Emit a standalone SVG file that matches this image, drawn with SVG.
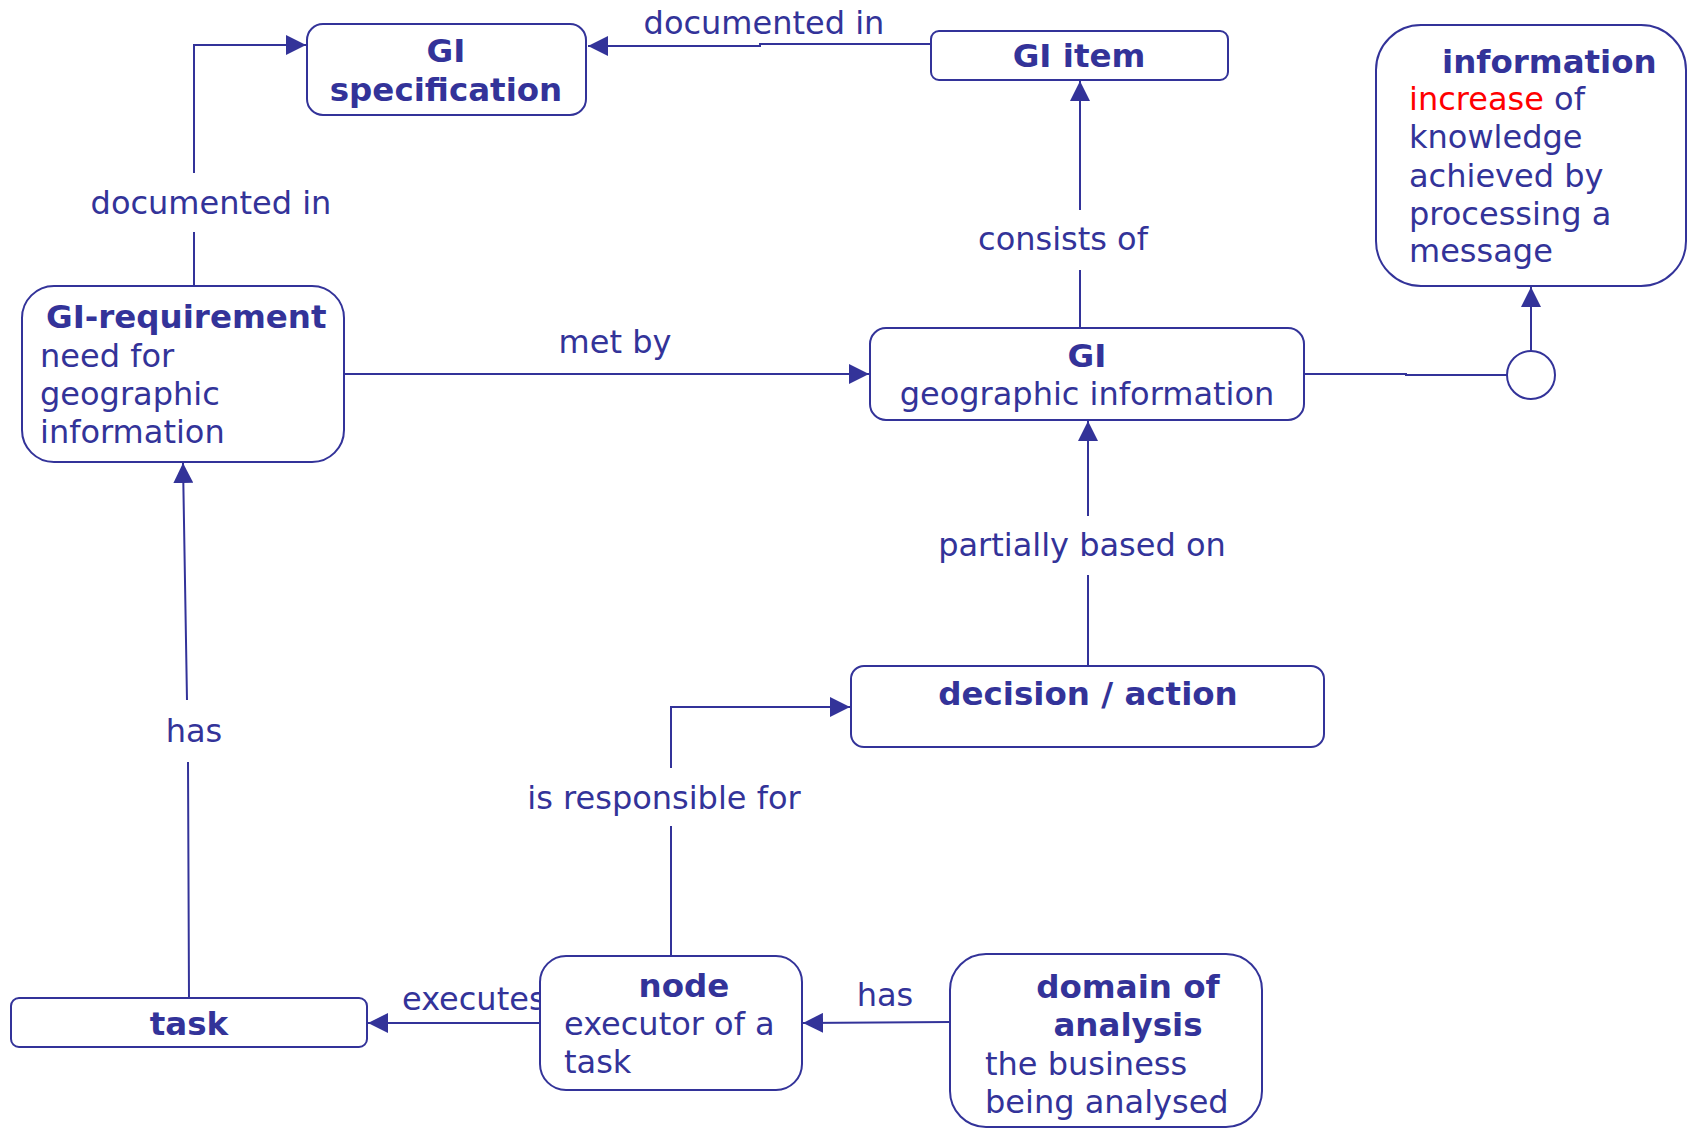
<svg xmlns="http://www.w3.org/2000/svg" width="1692" height="1128" viewBox="0 0 1692 1128">
<defs>
<marker id="arr" viewBox="0 0 10 10" refX="10" refY="5" markerWidth="20" markerHeight="20" markerUnits="userSpaceOnUse" orient="auto">
<path d="M0,0 L10,5 L0,10 z" fill="#333399"/>
</marker>
<style>
.box{fill:#fff;stroke:#333399;stroke-width:2}
.ln{fill:none;stroke:#333399;stroke-width:2}
text{font-family:"DejaVu Sans","Verdana",sans-serif;font-size:32px;fill:#333399}
.b{font-weight:bold;font-size:32.5px}
.c{text-anchor:middle}
.red{fill:#ff0000}
</style>
</defs>
<rect width="1692" height="1128" fill="#fff"/>
<g id="connectors">
<path class="ln" d="M931,44 L760,44 L760,46 L588,46" marker-end="url(#arr)"/>
<text class="c" x="764" y="34">documented in</text>
<path class="ln" d="M194,286 L194,232 M194,173 L194,45 L306,45" marker-end="url(#arr)"/>
<text class="c" x="211" y="214">documented in</text>
<path class="ln" d="M344,374 L869,374" marker-end="url(#arr)"/>
<text class="c" x="615" y="353">met by</text>
<path class="ln" d="M1080,328 L1080,270 M1080,210 L1080,81" marker-end="url(#arr)"/>
<text class="c" x="1063" y="250">consists of</text>
<path class="ln" d="M1304,374 L1406,374 L1406,375 L1507,375"/>
<circle cx="1531" cy="375" r="24" class="box"/>
<path class="ln" d="M1531,351 L1531,287" marker-end="url(#arr)"/>
<path class="ln" d="M1088,666 L1088,575 M1088,516 L1088,421" marker-end="url(#arr)"/>
<text class="c" x="1082" y="556">partially based on</text>
<path class="ln" d="M671,956 L671,826 M671,768 L671,707 L850,707" marker-end="url(#arr)"/>
<text class="c" x="664" y="809">is responsible for</text>
<path class="ln" d="M189,998 L188,762 M187,700 L183,463" marker-end="url(#arr)"/>
<text class="c" x="194" y="742">has</text>
<path class="ln" d="M540,1023 L368,1023" marker-end="url(#arr)"/>
<text x="402" y="1010">executes</text>
<path class="ln" d="M950,1022 L803,1023" marker-end="url(#arr)"/>
<text class="c" x="885" y="1006">has</text>
</g>
<g id="gi-specification">
<rect class="box" x="307" y="24" width="279" height="91" rx="16"/>
<text class="b c" x="446" y="62">GI</text>
<text class="b c" x="446" y="101">specification</text>
</g>
<g id="gi-item">
<rect class="box" x="931" y="31" width="297" height="49" rx="8"/>
<text class="b c" x="1079" y="67">GI item</text>
</g>
<g id="information">
<rect class="box" x="1376" y="25" width="310" height="261" rx="45"/>
<text class="b" x="1442" y="73">information</text>
<text x="1409" y="110"><tspan class="red">increase</tspan> of</text>
<text x="1409" y="148">knowledge</text>
<text x="1409" y="187">achieved by</text>
<text x="1409" y="225">processing a</text>
<text x="1409" y="262">message</text>
</g>
<g id="gi-requirement">
<rect class="box" x="22" y="286" width="322" height="176" rx="32"/>
<text class="b" x="46" y="328">GI-requirement</text>
<text x="40" y="367">need for</text>
<text x="40" y="405">geographic</text>
<text x="40" y="443">information</text>
</g>
<g id="gi">
<rect class="box" x="870" y="328" width="434" height="92" rx="16"/>
<text class="b c" x="1087" y="367">GI</text>
<text class="c" x="1087" y="405">geographic information</text>
</g>
<g id="decision-action">
<rect class="box" x="851" y="666" width="473" height="81" rx="13"/>
<text class="b c" x="1088" y="705">decision / action</text>
</g>
<g id="task">
<rect class="box" x="11" y="998" width="356" height="49" rx="8"/>
<text class="b c" x="189" y="1035">task</text>
</g>
<g id="node">
<rect class="box" x="540" y="956" width="262" height="134" rx="26"/>
<text class="b c" x="684" y="997">node</text>
<text x="564" y="1035">executor of a</text>
<text x="564" y="1073">task</text>
</g>
<g id="domain-of-analysis">
<rect class="box" x="950" y="954" width="312" height="173" rx="36"/>
<text class="b c" x="1128" y="998">domain of</text>
<text class="b c" x="1128" y="1036">analysis</text>
<text x="985" y="1075">the business</text>
<text x="985" y="1113">being analysed</text>
</g>
</svg>
